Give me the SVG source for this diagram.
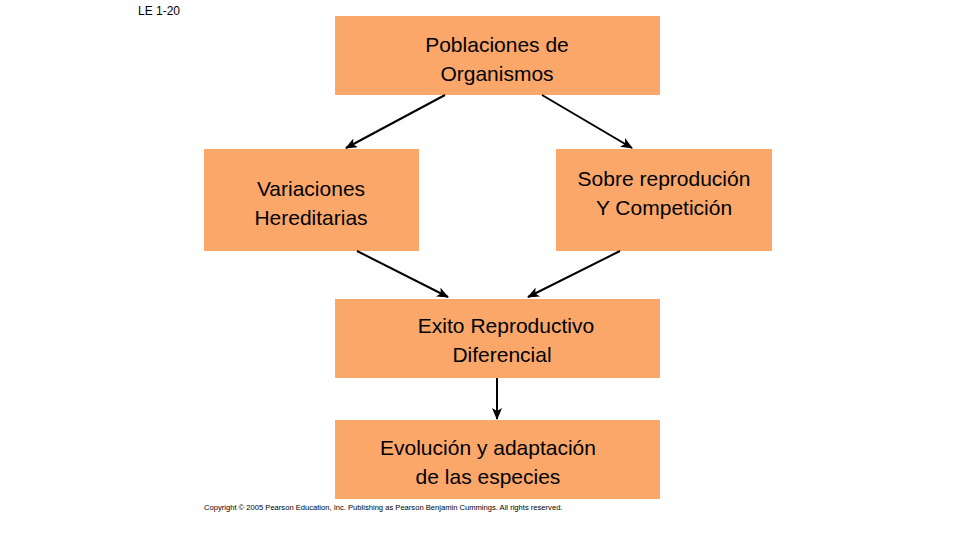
<svg xmlns="http://www.w3.org/2000/svg" width="960" height="540" viewBox="0 0 960 540">
<style>
.box{fill:#fba76a}
.t{font-family:"Liberation Sans",Arial,sans-serif;font-size:21px;fill:#000;text-anchor:middle}
.c{stroke:#000;stroke-width:2;fill:none;marker-end:url(#a)}
</style>
<defs><marker id="a" viewBox="0 0 12 10" refX="11" refY="5" markerWidth="12" markerHeight="10" markerUnits="userSpaceOnUse" orient="auto"><path d="M0,0 L12,5 L0,10 L3,5 Z" fill="#000"/></marker></defs>
<rect width="960" height="540" fill="#fff"/>
<text x="138" y="15" style="font-family:'Liberation Sans',Arial,sans-serif;font-size:12px">LE 1-20</text>
<g id="n1"><rect class="box" x="335" y="16" width="325" height="79"/><text class="t" x="497" y="52">Poblaciones de</text><text class="t" x="497" y="81">Organismos</text></g>
<g id="n2"><rect class="box" x="204" y="149" width="215" height="102"/><text class="t" x="311" y="196">Variaciones</text><text class="t" x="311" y="225">Hereditarias</text></g>
<g id="n3"><rect class="box" x="556" y="149" width="216" height="102"/><text class="t" x="664" y="186">Sobre reprodución</text><text class="t" x="664" y="215">Y Competición</text></g>
<g id="n4"><rect class="box" x="335" y="299" width="325" height="79"/><text class="t" x="506" y="333">Exito Reproductivo</text><text class="t" x="502" y="362">Diferencial</text></g>
<g id="n5"><rect class="box" x="335" y="420" width="325" height="79"/><text class="t" x="488" y="455">Evolución y adaptación</text><text class="t" x="488" y="484">de las especies</text></g>
<g id="connectors">
<line class="c" x1="445" y1="95" x2="346" y2="148"/>
<line class="c" x1="542" y1="95" x2="632" y2="148"/>
<line class="c" x1="357" y1="251" x2="448" y2="297"/>
<line class="c" x1="620" y1="251" x2="528" y2="297"/>
<line class="c" x1="497" y1="378" x2="497" y2="419"/>
</g>
<text x="204" y="510" style="font-family:'Liberation Sans',Arial,sans-serif;font-size:7.6px">Copyright © 2005 Pearson Education, Inc. Publishing as Pearson Benjamin Cummings. All rights reserved.</text>
</svg>
